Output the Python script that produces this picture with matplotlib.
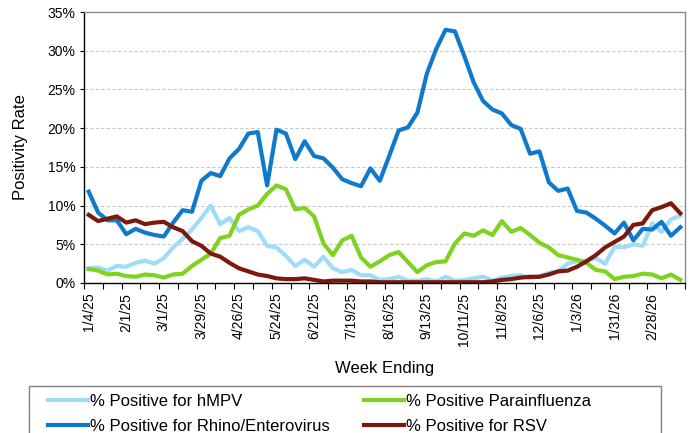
import numpy as np
import matplotlib
matplotlib.use("Agg")
import matplotlib.pyplot as plt
from matplotlib.patches import Rectangle
from matplotlib.ticker import FixedLocator, PercentFormatter

plt.rcParams["font.family"] = ["Liberation Sans", "DejaVu Sans"]

# Weekly positivity (%), week ending 1/4/25 through 3/21/26
hmpv = [1.9, 2.0, 1.6, 2.2, 2.1, 2.6, 2.9, 2.5, 3.2, 4.6,
        5.7, 6.9, 8.4, 10.0, 7.6, 8.4, 6.7, 7.2, 6.7, 4.8,
        4.6, 3.5, 2.2, 3.0, 2.1, 3.4, 1.9, 1.4, 1.7, 1.0,
        1.0, 0.4, 0.5, 0.8, 0.3, 0.3, 0.5, 0.2, 0.8, 0.3,
        0.4, 0.6, 0.8, 0.3, 0.7, 0.9, 1.0, 0.6, 0.9, 1.3,
        1.5, 2.5, 2.8, 2.9, 3.2, 2.5, 4.7, 4.6, 5.0, 4.8,
        7.7, 6.6, 8.2, 8.7]
para = [1.8, 1.6, 1.1, 1.2, 0.9, 0.8, 1.1, 1.0, 0.7, 1.1,
        1.2, 2.2, 3.0, 3.8, 5.8, 6.1, 8.8, 9.5, 10.0, 11.5,
        12.6, 12.1, 9.5, 9.7, 8.6, 5.1, 3.6, 5.5, 6.1, 3.3,
        2.1, 2.8, 3.6, 4.0, 2.7, 1.4, 2.3, 2.7, 2.8, 5.1,
        6.4, 6.1, 6.8, 6.2, 8.0, 6.6, 7.1, 6.2, 5.2, 4.6,
        3.6, 3.3, 3.0, 2.6, 1.7, 1.5, 0.5, 0.8, 0.9, 1.2,
        1.1, 0.6, 1.1, 0.4]
rhino = [11.8, 9.1, 8.1, 8.1, 6.3, 7.0, 6.5, 6.2, 6.0, 7.8,
         9.4, 9.2, 13.2, 14.2, 13.8, 16.1, 17.3, 19.3, 19.5, 12.6,
         19.8, 19.3, 16.0, 18.3, 16.4, 16.1, 14.9, 13.4, 12.9, 12.5,
         14.8, 13.2, 16.4, 19.7, 20.1, 22.0, 27.0, 30.2, 32.7, 32.5,
         29.3, 25.9, 23.5, 22.4, 21.9, 20.4, 19.9, 16.7, 17.0, 13.0,
         11.9, 12.2, 9.3, 9.1, 8.3, 7.4, 6.4, 7.8, 5.5, 7.0,
         6.9, 7.9, 6.1, 7.2]
rsv = [8.8, 8.0, 8.3, 8.6, 7.8, 8.1, 7.6, 7.8, 7.9, 7.2,
       6.7, 5.4, 4.8, 3.8, 3.4, 2.6, 1.9, 1.5, 1.1, 0.9,
       0.6, 0.5, 0.5, 0.6, 0.4, 0.2, 0.3, 0.3, 0.3, 0.2,
       0.2, 0.1, 0.1, 0.1, 0.1, 0.1, 0.1, 0.1, 0.1, 0.1,
       0.1, 0.1, 0.1, 0.2, 0.4, 0.5, 0.7, 0.8, 0.8, 1.1,
       1.5, 1.6, 2.1, 2.8, 3.6, 4.6, 5.3, 6.0, 7.5, 7.7,
       9.4, 9.8, 10.3, 9.0]

tick_labels = ["1/4/25", "2/1/25", "3/1/25", "3/29/25", "4/26/25", "5/24/25",
               "6/21/25", "7/19/25", "8/16/25", "9/13/25", "10/11/25", "11/8/25",
               "12/6/25", "1/3/26", "1/31/26", "2/28/26"]

weeks = np.arange(len(rhino))

fig = plt.figure(figsize=(6.89, 4.33), dpi=100)
ax = fig.add_axes([84 / 689, 1 - 283 / 433, 601 / 689, 271 / 433])

# drawn in the Excel series order so RSV sits on top
l_hmpv, = ax.plot(weeks, hmpv, color="#9edcf7", lw=3, solid_joinstyle="round")
l_para, = ax.plot(weeks, para, color="#7ed321", lw=3, solid_joinstyle="round")
l_rhino, = ax.plot(weeks, rhino, color="#0f7acb", lw=3, solid_joinstyle="round")
l_rsv, = ax.plot(weeks, rsv, color="#7b1a0c", lw=3, solid_joinstyle="round")

ax.set_xlim(-0.5, len(weeks) - 0.5)
ax.set_ylim(0, 35)
ax.set_yticks(np.arange(0, 36, 5))
ax.yaxis.set_major_formatter(PercentFormatter(decimals=0))
ax.yaxis.grid(True, color="#c8c8c8", lw=0.8, ls=(0, (3, 2)))
ax.set_axisbelow(True)

ax.set_xticks(np.arange(0, len(weeks), 4))
ax.set_xticklabels(tick_labels, rotation=90)
ax.xaxis.set_minor_locator(FixedLocator(np.arange(-0.5, len(weeks), 2)))
ax.tick_params(axis="x", which="major", length=0, pad=7, labelsize=10)
ax.tick_params(axis="x", which="minor", length=4, width=0.8, direction="out")
ax.tick_params(axis="y", length=3, width=0.8, direction="out", labelsize=10, pad=3)

for side in ["left", "bottom"]:
    ax.spines[side].set_color("black")
    ax.spines[side].set_linewidth(1.0)
for side in ["top", "right"]:
    ax.spines[side].set_color("#8c8c8c")
    ax.spines[side].set_linewidth(1.0)

ax.set_xlabel("Week Ending", fontsize=12, labelpad=11)
ax.set_ylabel("Positivity Rate", fontsize=12, labelpad=14)

# legend box runs off the bottom of the image, as in the original
fig.patches.append(Rectangle((29 / 689, -0.1), 632 / 689, 1 - 386 / 433 + 0.1,
                             transform=fig.transFigure, fill=False,
                             edgecolor="#808080", lw=1.0))
fig.legend([l_hmpv, l_rhino, l_para, l_rsv],
           ["% Positive for hMPV", "% Positive for Rhino/Enterovirus",
            "% Positive Parainfluenza", "% Positive for RSV"],
           loc="upper left", bbox_to_anchor=(48 / 689, 1 - 394 / 433),
           ncol=2, fontsize=12, frameon=False,
           handlelength=2.4, handletextpad=0.1, columnspacing=2.1,
           labelspacing=0.58, borderpad=0, borderaxespad=0)

fig.savefig("out.png", dpi=100)
